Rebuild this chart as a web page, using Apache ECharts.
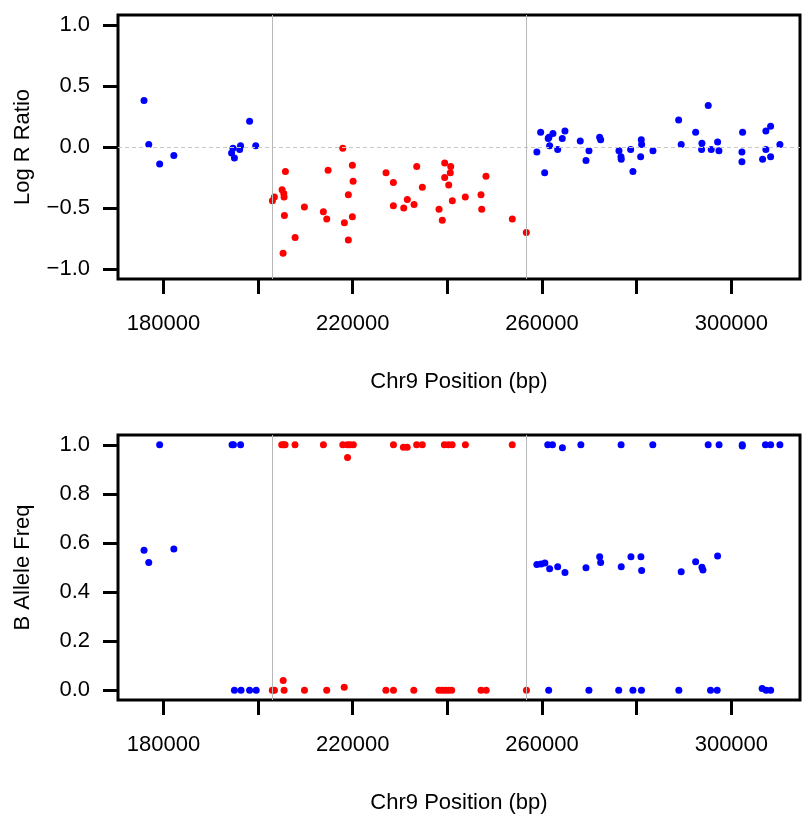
<!DOCTYPE html>
<html>
<head>
<meta charset="utf-8">
<script src="https://cdn.jsdelivr.net/npm/echarts@6/dist/echarts.min.js"></script>
<style>html,body{margin:0;padding:0;background:#fff}#c{width:804px;height:816px}</style>
</head>
<body>
<div id="c"></div>
<script>
// ---- data ----
const xTicks = [180000, 200000, 220000, 240000, 260000, 280000, 300000];
const xLabels = [180000, 220000, 260000, 300000];
const lrrTicks = [-1.0, -0.5, 0.0, 0.5, 1.0];
const bafTicks = [0.0, 0.2, 0.4, 0.6, 0.8, 1.0];
const boundaries = [203000, 256700];

const lrrBlueX = [175900,176900,179200,182200,194700,194400,195000,196300,196100,198200,199500,
  258900,259700,260550,261300,261600,261450,262300,263300,264270,264840,268070,269280,269910,272170,272380,
  276250,276670,276730,278720,279200,280830,280960,281040,283430,288860,289400,292450,293780,293710,295110,
  295740,297090,297370,302370,302230,302230,306600,307290,308290,307290,308290,310250];
const lrrBlueY = [0.38,0.02,-0.14,-0.07,-0.01,-0.05,-0.09,0.01,-0.02,0.21,0.01,
  -0.04,0.12,-0.21,0.07,0.01,0.08,0.11,-0.02,0.07,0.13,0.05,-0.11,-0.03,0.08,0.06,
  -0.03,-0.08,-0.10,-0.02,-0.20,-0.08,0.06,0.02,-0.03,0.22,0.02,0.12,0.03,-0.02,0.34,
  -0.02,0.04,-0.03,0.12,-0.04,-0.12,-0.10,0.13,0.17,-0.02,-0.08,0.02];
const lrrRedX = [203020,203440,205070,205430,205490,205560,205280,205770,207820,209780,213790,214510,214790,
  217890,218230,219070,219070,219920,220070,219920,227030,228580,228580,230770,231530,232950,233520,234700,
  238230,238920,239430,240700,240610,239430,240280,241040,243780,247100,247250,248150,253710,256670];
const lrrRedY = [-0.44,-0.41,-0.35,-0.38,-0.41,-0.56,-0.87,-0.20,-0.74,-0.49,-0.53,-0.59,-0.19,
  -0.01,-0.62,-0.39,-0.76,-0.15,-0.28,-0.57,-0.21,-0.29,-0.48,-0.50,-0.43,-0.47,-0.16,-0.33,
  -0.51,-0.60,-0.13,-0.16,-0.21,-0.25,-0.31,-0.44,-0.41,-0.39,-0.51,-0.24,-0.59,-0.70];

const bafBlueX = [179200,194500,194800,196300,175900,176900,182200,195000,196400,198200,199600,
  261200,262200,264300,268200,276700,283400,295100,297400,302300,302300,307200,308300,310250,
  258900,259800,260600,261600,263300,264840,269280,272170,272380,276730,278780,280890,281040,289400,292450,293780,293990,297090,
  261400,269900,276200,279200,281000,288900,295600,297000,306500,307350,308300];
const bafBlueY = [1.0,1.0,1.0,1.0,0.57,0.52,0.575,0.0,0.0,0.0,0.0,
  1.0,1.0,0.988,1.0,1.0,1.0,1.0,1.0,1.0,0.995,1.0,1.0,1.0,
  0.512,0.514,0.518,0.495,0.503,0.48,0.499,0.544,0.52,0.503,0.544,0.544,0.488,0.483,0.523,0.501,0.49,0.547,
  0.0,0.0,0.0,0.0,0.0,0.0,0.0,0.0,0.007,0.0,0.0];
const bafRedX = [205000,205350,205700,207800,213800,217900,218860,219430,220130,218900,228600,230700,231500,233500,234700,
  239350,240200,241000,243800,253700,
  203000,203450,205300,205500,209800,214500,218200,227000,228600,232900,238200,238900,239550,240200,240900,247100,248200,256700];
const bafRedY = [1.0,1.0,1.0,1.0,1.0,1.0,1.0,1.0,1.0,0.948,1.0,0.99,0.99,1.0,1.0,
  1.0,1.0,1.0,1.0,1.0,
  0.0,0.0,0.039,0.0,0.0,0.0,0.012,0.0,0.0,0.0,0.0,0.0,0.0,0.0,0.0,0.0,0.0,0.0];

// ---- chart ----
const zip = (xs, ys) => xs.map((x, i) => [x, ys[i]]);
const FONT = "'Liberation Sans', Arial, Helvetica, sans-serif";
const fmtNum = v => (v < 0 ? '\u2212' : '') + Math.abs(v).toFixed(1);
const chart = echarts.init(document.getElementById('c'), null, {renderer: 'canvas'});

function xAxis(gridIndex) {
  return {
    type: 'value', gridIndex, min: 170400, max: 314500,
    name: 'Chr9 Position (bp)', nameLocation: 'middle', nameGap: 92,
    nameTextStyle: {fontFamily: FONT, fontSize: 22, color: '#000', verticalAlign: 'top'},
    axisLine: {show: false, onZero: false},
    axisTick: {show: true, inside: false, length: 15, customValues: xTicks, lineStyle: {color: '#000', width: 3}},
    axisLabel: {show: true, margin: 34, customValues: xLabels, fontFamily: FONT, fontSize: 22, color: '#000',
      formatter: v => String(v)},
    splitLine: {show: false}
  };
}
function yAxis(gridIndex, min, max, ticks, name) {
  return {
    type: 'value', gridIndex, min, max,
    name, nameLocation: 'middle', nameGap: 84,
    nameTextStyle: {fontFamily: FONT, fontSize: 22, color: '#000'},
    axisLine: {show: false, onZero: false},
    axisTick: {show: true, inside: false, length: 15, customValues: ticks, lineStyle: {color: '#000', width: 3}},
    axisLabel: {show: true, margin: 28, customValues: ticks, fontFamily: FONT, fontSize: 22, color: '#000',
      formatter: fmtNum},
    splitLine: {show: false}
  };
}
const vLines = {
  silent: true, symbol: 'none', label: {show: false},
  lineStyle: {color: '#b8b8b8', width: 1, type: 'solid'},
  data: boundaries.map(b => ({xAxis: b}))
};
const sym = {symbol: 'circle', symbolSize: 7};
const blue = {color: '#0000ff', opacity: 1};
const red = {color: '#ff0000', opacity: 1};

chart.setOption({
  animation: false,
  backgroundColor: '#fff',
  grid: [
    {left: 118, top: 15, width: 682, height: 264, show: true, borderColor: '#000', borderWidth: 3, backgroundColor: 'transparent'},
    {left: 118, top: 435, width: 682, height: 265, show: true, borderColor: '#000', borderWidth: 3, backgroundColor: 'transparent'}
  ],
  xAxis: [xAxis(0), xAxis(1)],
  yAxis: [yAxis(0, -1.08, 1.08, lrrTicks, 'Log R Ratio'), yAxis(1, -0.04, 1.04, bafTicks, 'B Allele Freq')],
  series: [
    {type: 'scatter', xAxisIndex: 0, yAxisIndex: 0, data: [], z: 1,
      markLine: {silent: true, symbol: 'none', label: {show: false}, animation: false,
        data: [{yAxis: 0, lineStyle: {color: '#c8c8c8', width: 1, type: [4, 3]}}].concat(
          boundaries.map(b => ({xAxis: b, lineStyle: {color: '#b8b8b8', width: 1, type: 'solid'}})))}},
    {type: 'scatter', xAxisIndex: 1, yAxisIndex: 1, data: [], z: 1, markLine: vLines},
    Object.assign({type: 'scatter', xAxisIndex: 0, yAxisIndex: 0, data: zip(lrrBlueX, lrrBlueY), itemStyle: blue, z: 3}, sym),
    Object.assign({type: 'scatter', xAxisIndex: 0, yAxisIndex: 0, data: zip(lrrRedX, lrrRedY), itemStyle: red, z: 3}, sym),
    Object.assign({type: 'scatter', xAxisIndex: 1, yAxisIndex: 1, data: zip(bafBlueX, bafBlueY), itemStyle: blue, z: 3}, sym),
    Object.assign({type: 'scatter', xAxisIndex: 1, yAxisIndex: 1, data: zip(bafRedX, bafRedY), itemStyle: red, z: 3}, sym)
  ]
});
</script>
</body>
</html>
